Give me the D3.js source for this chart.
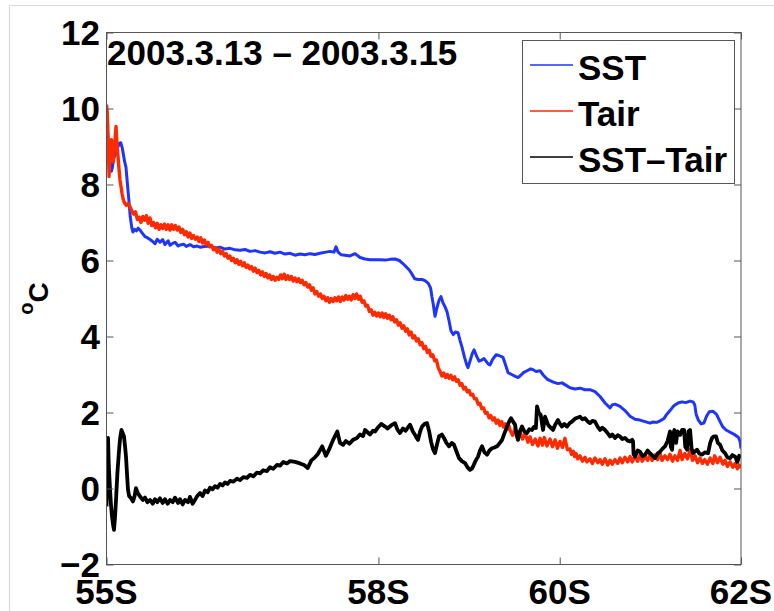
<!DOCTYPE html>
<html>
<head>
<meta charset="utf-8">
<script src="https://cdn.jsdelivr.net/npm/d3@7"></script>
<style>
  html, body { margin: 0; padding: 0; background: #fff; }
  svg { display: block; }
  text { font-family: "Liberation Sans", Arial, Helvetica, sans-serif; font-weight: bold; fill: #000; }
</style>
</head>
<body>
<svg id="chart" width="774" height="611"></svg>
<script>
// Cruise track 2003.3.13 - 2003.3.15: temperatures (deg C) against latitude (deg S)
const title = "2003.3.13 \u2013 2003.3.15";
const latTicks = [55, 58, 60, 62];
const latTickLabels = ["55S", "58S", "60S", "62S"];
const tempTicks = [-2, 0, 2, 4, 6, 8, 10, 12];
const seriesNames = ["SST", "Tair", "SST\u2013Tair"];
const seriesColors = ["#1f35ff", "#ff2a00", "#000000"];

// sea surface temperature [lat, degC]
const sst = [
  [55.000,9.70],[55.010,9.45],[55.025,8.90],[55.040,8.55],[55.055,8.35],[55.065,8.45],[55.080,8.70],
  [55.100,8.80],[55.120,8.95],[55.140,9.08],[55.157,9.10],[55.175,8.95],[55.200,8.60],[55.215,8.45],
  [55.235,7.90],[55.250,7.50],[55.262,7.15],[55.280,6.85],[55.292,6.75],[55.310,6.82],[55.330,6.78],
  [55.350,6.85],[55.370,6.80],[55.395,6.72],[55.425,6.63],[55.450,6.60],[55.480,6.55],[55.510,6.50],
  [55.535,6.44],[55.560,6.56],[55.590,6.48],[55.620,6.55],[55.645,6.42],[55.680,6.52],[55.701,6.40],
  [55.730,6.45],[55.756,6.48],[55.790,6.38],[55.811,6.41],[55.850,6.43],[55.880,6.37],[55.921,6.42],
  [55.960,6.36],[56.000,6.38],[56.032,6.35],[56.080,6.37],[56.142,6.38],[56.200,6.33],[56.252,6.35],
  [56.307,6.30],[56.363,6.32],[56.420,6.28],[56.473,6.27],[56.528,6.29],[56.583,6.24],[56.640,6.26],
  [56.694,6.22],[56.750,6.20],[56.804,6.23],[56.860,6.19],[56.914,6.22],[56.970,6.17],[57.025,6.19],
  [57.080,6.14],[57.135,6.17],[57.190,6.15],[57.245,6.18],[57.300,6.16],[57.355,6.19],[57.420,6.22],
  [57.466,6.24],[57.510,6.22],[57.532,6.36],[57.555,6.22],[57.590,6.15],[57.631,6.14],[57.686,6.12],
  [57.742,6.18],[57.797,6.08],[57.852,6.04],[57.907,6.02],[57.962,6.02],[58.017,6.02],[58.073,6.01],
  [58.128,6.03],[58.183,6.04],[58.230,6.00],[58.270,5.92],[58.300,5.85],[58.340,5.75],[58.371,5.64],
  [58.400,5.52],[58.437,5.50],[58.480,5.50],[58.514,5.47],[58.550,5.40],[58.575,5.28],[58.590,5.05],
  [58.605,4.85],[58.624,4.53],[58.645,4.75],[58.668,4.95],[58.690,5.05],[58.710,4.90],[58.735,4.78],
  [58.757,4.65],[58.780,4.40],[58.800,4.15],[58.825,4.05],[58.850,4.12],[58.878,4.10],[58.900,3.90],
  [58.922,3.72],[58.950,3.45],[58.975,3.25],[58.988,3.18],[59.010,3.35],[59.035,3.55],[59.055,3.65],
  [59.080,3.50],[59.110,3.35],[59.140,3.38],[59.165,3.42],[59.187,3.35],[59.210,3.28],[59.231,3.25],
  [59.260,3.40],[59.298,3.52],[59.330,3.50],[59.375,3.45],[59.410,3.20],[59.430,3.05],[59.470,3.00],
  [59.510,2.95],[59.540,2.92],[59.562,2.96],[59.600,3.05],[59.639,3.10],[59.680,3.15],[59.710,3.12],
  [59.740,3.08],[59.783,3.10],[59.820,2.98],[59.860,2.88],[59.893,2.84],[59.930,2.80],[59.981,2.76],
  [60.025,2.78],[60.080,2.70],[60.113,2.65],[60.169,2.62],[60.224,2.64],[60.279,2.60],[60.334,2.60],
  [60.389,2.55],[60.445,2.42],[60.500,2.25],[60.555,2.12],[60.580,2.20],[60.610,2.22],[60.665,2.16],
  [60.720,2.05],[60.776,1.90],[60.831,1.82],[60.886,1.80],[60.941,1.76],[60.996,1.72],[61.030,1.75],
  [61.070,1.74],[61.107,1.78],[61.150,1.84],[61.180,1.95],[61.217,2.05],[61.260,2.18],[61.305,2.25],
  [61.350,2.28],[61.390,2.26],[61.438,2.30],[61.471,2.28],[61.490,2.20],[61.505,1.95],[61.530,1.80],
  [61.560,1.70],[61.590,1.72],[61.620,1.90],[61.650,2.02],[61.692,2.03],[61.730,1.95],[61.769,1.76],
  [61.800,1.62],[61.835,1.54],[61.880,1.48],[61.935,1.41],[61.970,1.35],[61.990,1.24],[62.000,1.05]
];

// air temperature [lat, degC]
const tair = [
  [55.000,10.10],[55.008,9.90],[55.015,9.44],[55.022,8.80],[55.028,8.21],[55.035,8.60],[55.045,9.05],
  [55.055,9.18],[55.065,8.90],[55.075,8.60],[55.085,8.91],[55.095,9.20],[55.105,9.53],[55.115,9.10],
  [55.127,8.74],[55.140,8.35],[55.149,8.12],[55.160,7.95],[55.171,7.77],[55.185,7.60],[55.200,7.51],
  [55.220,7.45],[55.240,7.50],[55.259,7.42],[55.280,7.30],
  [55.300,7.22],[55.320,7.28],[55.340,7.08],[55.360,7.14],[55.380,7.00],[55.400,7.16],[55.420,7.06],
  [55.440,7.18],[55.460,6.98],[55.480,7.12],[55.500,6.92],[55.520,7.00],[55.540,6.86],[55.560,6.98],
  [55.580,6.82],[55.600,6.94],[55.620,6.84],[55.640,6.96],[55.660,6.82],[55.680,6.94],[55.700,6.80],
  [55.720,6.94],[55.740,6.82],[55.760,6.92],[55.780,6.80],[55.800,6.88],[55.820,6.74],[55.840,6.82],
  [55.860,6.68],[55.880,6.76],[55.900,6.62],[55.920,6.72],[55.940,6.58],[55.960,6.66],[55.980,6.56],
  [56.000,6.62],[56.020,6.50],[56.040,6.60],[56.060,6.46],[56.080,6.54],[56.100,6.42],[56.120,6.48],
  [56.140,6.36],[56.160,6.40],[56.180,6.28],[56.200,6.34],[56.220,6.22],[56.240,6.30],[56.260,6.18],
  [56.280,6.24],[56.300,6.12],[56.320,6.18],[56.340,6.06],[56.360,6.12],[56.380,6.00],[56.400,6.06],
  [56.420,5.94],[56.440,6.02],[56.460,5.90],[56.480,5.98],[56.500,5.86],[56.520,5.94],[56.540,5.82],
  [56.560,5.88],[56.580,5.78],[56.600,5.84],[56.620,5.72],[56.640,5.80],[56.660,5.68],[56.680,5.74],
  [56.700,5.62],[56.720,5.70],[56.740,5.58],[56.760,5.66],[56.780,5.54],[56.800,5.62],[56.820,5.50],
  [56.840,5.58],[56.860,5.48],[56.880,5.56],[56.900,5.50],[56.920,5.62],[56.940,5.52],[56.960,5.64],
  [56.980,5.50],[57.000,5.60],[57.020,5.50],[57.040,5.58],[57.060,5.46],[57.080,5.54],[57.100,5.44],
  [57.120,5.52],[57.140,5.42],[57.160,5.48],[57.180,5.36],[57.200,5.42],[57.220,5.30],[57.240,5.36],
  [57.260,5.22],[57.280,5.28],[57.300,5.12],[57.320,5.18],[57.340,5.06],[57.360,5.12],[57.380,5.00],
  [57.400,5.06],[57.420,4.94],[57.440,5.02],[57.460,4.90],[57.480,5.00],[57.500,4.92],[57.520,5.02],
  [57.540,4.94],[57.560,5.04],[57.580,4.92],[57.600,5.04],[57.620,4.96],[57.640,5.08],[57.660,4.98],
  [57.680,5.06],[57.700,4.96],[57.720,5.10],[57.740,5.00],[57.760,5.12],[57.780,4.98],[57.800,5.06],
  [57.820,4.90],[57.840,4.94],[57.860,4.80],[57.880,4.82],[57.900,4.66],[57.920,4.70],[57.940,4.56],
  [57.960,4.64],[57.980,4.54],[58.000,4.62],[58.020,4.52],[58.040,4.62],[58.060,4.50],[58.080,4.60],
  [58.100,4.48],[58.120,4.56],[58.140,4.44],[58.160,4.52],[58.180,4.38],[58.200,4.44],[58.220,4.30],
  [58.240,4.36],[58.260,4.22],[58.280,4.28],[58.300,4.14],[58.320,4.20],[58.340,4.04],[58.360,4.12],
  [58.380,3.96],[58.400,4.02],[58.420,3.88],[58.440,3.94],[58.460,3.78],[58.480,3.84],[58.500,3.68],
  [58.520,3.74],[58.540,3.58],[58.560,3.64],[58.580,3.48],[58.600,3.52],[58.620,3.36],[58.640,3.38],
  [58.660,3.18],[58.680,3.08],[58.700,2.96],[58.720,3.04],[58.740,2.92],[58.760,3.00],[58.780,2.90],
  [58.800,2.98],[58.820,2.86],[58.840,2.94],[58.860,2.82],[58.880,2.86],[58.900,2.72],[58.920,2.76],
  [58.940,2.62],[58.960,2.66],[58.980,2.54],[59.000,2.58],[59.020,2.46],[59.040,2.48],[59.060,2.36],
  [59.080,2.36],[59.100,2.22],[59.120,2.24],[59.140,2.10],[59.160,2.12],[59.180,1.98],[59.200,2.00],
  [59.220,1.86],[59.240,1.92],[59.260,1.80],[59.280,1.86],[59.300,1.72],[59.320,1.80],[59.340,1.66],
  [59.360,1.76],[59.380,1.62],[59.400,1.70],[59.420,1.56],[59.440,1.64],
  [59.452,1.54],[59.480,1.40],[59.510,1.58],[59.540,1.38],[59.562,1.50],[59.590,1.30],[59.620,1.44],
  [59.650,1.22],[59.672,1.36],[59.700,1.16],[59.730,1.30],[59.760,1.12],[59.783,1.32],[59.810,1.14],
  [59.830,1.34],[59.860,1.12],[59.893,1.30],[59.920,1.10],[59.950,1.28],[59.975,1.06],[60.003,1.24],
  [60.030,1.08],[60.058,1.32],[60.085,1.02],[60.113,1.04],[60.130,0.90],[60.150,0.98],[60.165,0.84],
  [60.180,0.92],[60.200,0.78],[60.224,0.86],[60.250,0.72],[60.280,0.82],[60.300,0.70],[60.334,0.78],
  [60.360,0.66],[60.389,0.80],[60.420,0.68],[60.445,0.76],[60.470,0.64],[60.500,0.78],[60.530,0.62],
  [60.555,0.74],[60.580,0.64],[60.610,0.76],[60.640,0.66],[60.665,0.80],[60.690,0.68],[60.720,0.82],
  [60.750,0.70],[60.776,0.84],[60.800,0.70],[60.831,0.86],[60.860,0.72],[60.886,0.88],[60.910,0.72],
  [60.941,0.84],[60.970,0.74],[60.996,0.90],[61.020,0.74],[61.050,0.88],[61.080,0.76],[61.107,0.92],
  [61.130,0.74],[61.160,0.86],[61.190,0.76],[61.217,0.90],[61.245,0.72],[61.270,0.86],[61.300,0.74],
  [61.328,1.00],[61.350,0.76],[61.380,0.92],[61.410,0.78],[61.438,1.02],[61.465,0.74],[61.493,0.86],
  [61.520,0.68],[61.548,0.80],[61.575,0.66],[61.600,0.76],[61.630,0.64],[61.659,0.80],[61.690,0.66],
  [61.710,0.86],[61.740,0.68],[61.769,0.82],[61.800,0.64],[61.824,0.74],[61.850,0.58],[61.880,0.70],
  [61.910,0.56],[61.935,0.66],[61.960,0.52],[61.980,0.62],[62.000,0.54]
];

// sea-air temperature difference [lat, degC]
const sstMinusTair = [
  [55.000,-0.47],[55.008,0.20],[55.017,1.33],[55.025,0.60],[55.039,-0.03],[55.050,-0.45],[55.061,-0.74],
  [55.072,-0.95],[55.083,-1.09],[55.094,-0.75],[55.105,-0.30],[55.120,0.40],[55.135,0.90],[55.149,1.30],
  [55.165,1.54],[55.180,1.45],[55.193,1.37],[55.205,1.10],[55.215,0.84],[55.226,0.40],[55.237,-0.03],
  [55.250,-0.20],[55.270,-0.25],[55.292,-0.34],[55.310,-0.20],[55.325,0.01],[55.345,-0.12],[55.370,-0.21],
  [55.400,-0.30],[55.425,-0.24],[55.450,-0.36],[55.480,-0.30],[55.510,-0.40],[55.535,-0.28],[55.560,-0.36],
  [55.590,-0.26],[55.620,-0.38],[55.645,-0.28],[55.675,-0.40],[55.701,-0.30],[55.730,-0.36],[55.756,-0.24],
  [55.790,-0.38],[55.811,-0.28],[55.840,-0.42],[55.866,-0.30],[55.900,-0.36],[55.921,-0.22],[55.950,-0.40],
  [55.976,-0.30],[56.000,-0.20],[56.032,-0.12],[56.060,-0.20],[56.087,-0.05],[56.115,-0.10],[56.142,0.02],
  [56.170,-0.02],[56.197,0.06],[56.225,0.02],[56.252,0.12],[56.280,0.08],[56.307,0.16],[56.335,0.12],
  [56.363,0.20],[56.400,0.18],[56.440,0.26],[56.473,0.22],[56.510,0.30],[56.550,0.28],[56.583,0.36],
  [56.620,0.32],[56.660,0.42],[56.694,0.40],[56.730,0.48],[56.770,0.46],[56.804,0.56],[56.840,0.52],
  [56.880,0.62],[56.914,0.60],[56.950,0.70],[56.990,0.66],[57.025,0.72],[57.080,0.70],[57.135,0.66],
  [57.180,0.62],[57.220,0.54],[57.260,0.74],[57.300,0.82],[57.330,0.90],[57.380,1.11],[57.420,0.86],
  [57.460,1.05],[57.500,1.28],[57.546,1.50],[57.576,1.20],[57.610,1.15],[57.640,1.25],[57.680,1.18],
  [57.720,1.28],[57.760,1.32],[57.797,1.42],[57.830,1.38],[57.852,1.54],[57.880,1.48],[57.907,1.42],
  [57.940,1.52],[57.962,1.50],[58.000,1.62],[58.030,1.70],[58.073,1.63],[58.100,1.58],[58.140,1.66],
  [58.183,1.72],[58.210,1.55],[58.238,1.46],[58.270,1.58],[58.300,1.52],[58.330,1.62],[58.349,1.68],
  [58.380,1.50],[58.404,1.41],[58.420,1.34],[58.437,1.28],[58.460,1.50],[58.481,1.63],[58.510,1.70],
  [58.536,1.72],[58.560,1.50],[58.580,1.24],[58.600,1.05],[58.624,0.93],[58.645,1.15],[58.668,1.37],
  [58.700,1.42],[58.723,1.33],[58.750,1.20],[58.779,1.11],[58.810,1.20],[58.834,1.15],[58.860,0.98],
  [58.889,0.80],[58.920,0.72],[58.955,0.67],[58.985,0.55],[59.010,0.49],[59.030,0.52],[59.044,0.58],
  [59.070,0.72],[59.099,0.84],[59.120,1.00],[59.143,1.11],[59.170,0.95],[59.198,0.89],[59.225,1.00],
  [59.253,1.06],[59.280,1.08],[59.309,1.11],[59.340,1.20],[59.364,1.28],[59.390,1.45],[59.419,1.63],
  [59.440,1.75],[59.463,1.85],[59.485,1.76],[59.507,1.68],[59.525,1.40],[59.540,1.28],[59.560,1.50],
  [59.584,1.63],[59.610,1.50],[59.639,1.46],[59.665,1.56],[59.694,1.54],[59.715,1.62],[59.737,1.59],
  [59.750,2.16],[59.770,1.98],[59.790,1.94],[59.816,1.54],[59.838,1.89],[59.871,1.68],[59.900,1.60],
  [59.926,1.54],[59.950,1.68],[59.981,1.80],[60.003,1.70],[60.025,1.63],[60.050,1.70],[60.080,1.63],
  [60.110,1.72],[60.135,1.76],[60.160,1.82],[60.180,1.85],[60.224,1.89],[60.250,1.82],[60.279,1.85],
  [60.310,1.76],[60.334,1.72],[60.360,1.78],[60.389,1.76],[60.420,1.62],[60.445,1.54],[60.470,1.60],
  [60.500,1.54],[60.530,1.45],[60.555,1.37],[60.580,1.42],[60.610,1.33],[60.640,1.40],[60.665,1.37],
  [60.690,1.30],[60.720,1.33],[60.750,1.26],[60.776,1.24],[60.800,1.28],[60.809,1.24],[60.815,0.90],
  [60.831,0.84],[60.860,1.00],[60.886,0.97],[60.915,0.85],[60.941,0.89],[60.970,1.00],[60.996,0.93],
  [61.025,0.86],[61.052,0.80],[61.080,0.92],[61.107,0.97],[61.135,1.05],[61.162,1.11],[61.190,1.25],
  [61.217,1.50],[61.225,1.10],[61.240,1.02],[61.250,1.40],[61.265,1.54],[61.283,1.20],[61.300,1.50],
  [61.328,1.41],[61.350,1.54],[61.372,1.54],[61.385,1.10],[61.405,1.02],[61.420,1.50],[61.438,1.54],
  [61.455,1.05],[61.471,0.93],[61.493,0.98],[61.515,1.02],[61.540,0.92],[61.571,0.89],[61.600,0.95],
  [61.637,0.93],[61.660,1.20],[61.681,1.33],[61.700,1.37],[61.725,1.37],[61.745,1.20],[61.769,1.15],
  [61.795,1.00],[61.824,0.93],[61.850,0.82],[61.880,0.80],[61.905,0.88],[61.935,0.84],[61.960,0.70],
  [61.980,0.86],[62.000,0.80]
];

const svg = d3.select("#chart");
const W = 774, H = 611;
const plot = { left: 106.5, right: 741, top: 32.5, bottom: 564.5 };

const x = d3.scaleLinear().domain([55, 62]).range([plot.left, plot.right]);
const y = d3.scaleLinear().domain([-2, 12]).range([plot.bottom, plot.top]);

// figure frame (top and left edges)
svg.append("path")
  .attr("d", `M9.5,${H} V5.5 H${W}`)
  .attr("fill", "none").attr("stroke", "#d9d9d9").attr("stroke-width", 1.2);

// clip for the data lines
svg.append("defs").append("clipPath").attr("id", "plotClip")
  .append("rect")
  .attr("x", plot.left).attr("y", plot.top)
  .attr("width", plot.right - plot.left).attr("height", plot.bottom - plot.top);

const line = d3.line().x(d => x(d[0])).y(d => y(d[1]));
const lines = svg.append("g").attr("clip-path", "url(#plotClip)");
const seriesData = [sst, tair, sstMinusTair];
const widths = [3.0, 3.4, 3.8];
seriesData.forEach((data, i) => {
  lines.append("path")
    .datum(data)
    .attr("d", line)
    .attr("fill", "none")
    .attr("stroke", seriesColors[i])
    .attr("stroke-width", widths[i])
    .attr("stroke-linejoin", "round");
});

// axes box with inward ticks on all four sides
const axisColor = "#555";
const tickLen = 7;
const axisG = svg.append("g");
axisG.append("rect")
  .attr("x", plot.left).attr("y", plot.top)
  .attr("width", plot.right - plot.left).attr("height", plot.bottom - plot.top)
  .attr("fill", "none").attr("stroke", axisColor).attr("stroke-width", 1);

const bottomAxis = d3.axisBottom(x).tickValues(latTicks).tickSize(-tickLen).tickFormat("");
const topAxis = d3.axisTop(x).tickValues(latTicks).tickSize(-tickLen).tickFormat("");
const leftAxis = d3.axisLeft(y).tickValues(tempTicks).tickSize(-tickLen).tickFormat("");
const rightAxis = d3.axisRight(y).tickValues(tempTicks).tickSize(-tickLen).tickFormat("");

[[bottomAxis, `translate(0,${plot.bottom})`], [topAxis, `translate(0,${plot.top})`],
 [leftAxis, `translate(${plot.left},0)`], [rightAxis, `translate(${plot.right},0)`]]
  .forEach(([ax, tr]) => {
    const g = axisG.append("g").attr("transform", tr).call(ax);
    g.select(".domain").remove();
    g.selectAll(".tick line").attr("stroke", axisColor).attr("stroke-width", 1);
  });

// tick labels
const fontSize = 35;
svg.append("g").selectAll("text")
  .data(tempTicks)
  .join("text")
  .attr("x", 100)
  .attr("y", d => y(d) + 12.5)
  .attr("text-anchor", "end")
  .attr("font-size", fontSize)
  .text(d => d < 0 ? "\u2212" + Math.abs(d) : String(d));

svg.append("g").selectAll("text")
  .data(latTicks)
  .join("text")
  .attr("x", d => x(d))
  .attr("y", 604)
  .attr("text-anchor", "middle")
  .attr("font-size", fontSize)
  .text((d, i) => latTickLabels[i]);

// y-axis label: degree C
const ylab = svg.append("text")
  .attr("transform", "translate(48,298.5) rotate(-90)")
  .attr("text-anchor", "middle")
  .attr("font-size", 28);
ylab.append("tspan").attr("font-size", 20).attr("dy", -15).text("o");
ylab.append("tspan").attr("dy", 15).text("C");

// title inside the axes
svg.append("text")
  .attr("x", 107).attr("y", 65)
  .attr("font-size", fontSize)
  .text(title);

// legend
const lg = svg.append("g");
lg.append("rect")
  .attr("x", 522.5).attr("y", 40.5).attr("width", 212).attr("height", 143)
  .attr("fill", "#fff").attr("stroke", axisColor).attr("stroke-width", 1);
const legendRows = [65, 111, 157];
seriesNames.forEach((name, i) => {
  lg.append("line")
    .attr("x1", 530).attr("x2", 573)
    .attr("y1", legendRows[i]).attr("y2", legendRows[i])
    .attr("stroke", seriesColors[i]).attr("stroke-width", 1.5);
  lg.append("text")
    .attr("x", 578).attr("y", legendRows[i] + 14.5)
    .attr("font-size", fontSize)
    .text(name);
});
</script>
</body>
</html>
